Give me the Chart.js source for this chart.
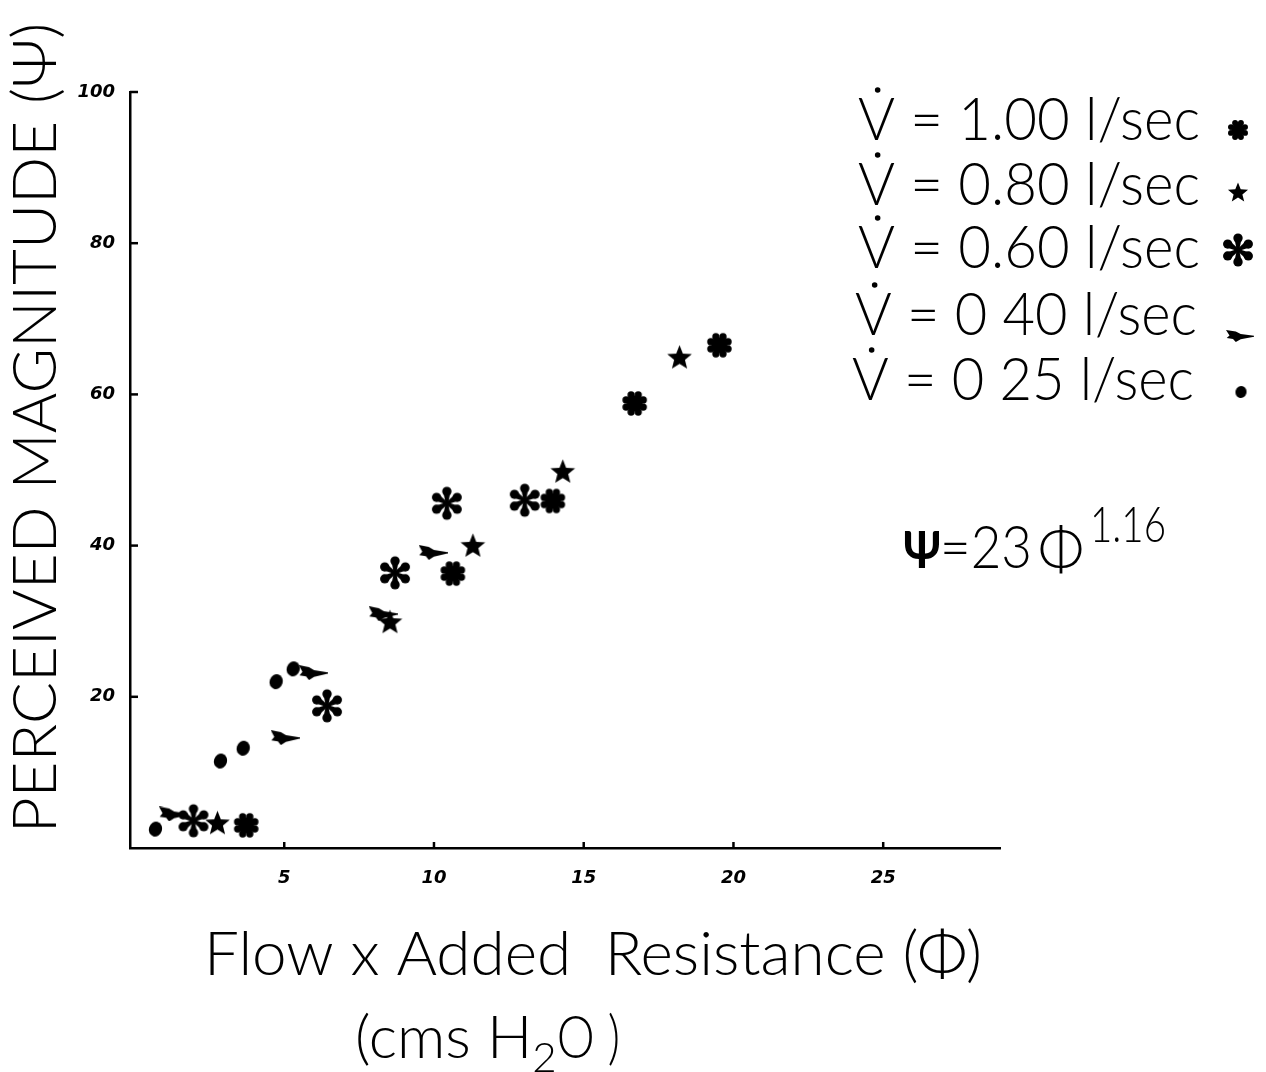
<!DOCTYPE html>
<html>
<head>
<meta charset="utf-8">
<script src="https://cdn.jsdelivr.net/npm/chart.js@4.4.1/dist/chart.umd.min.js"></script>
<style>
  html, body { margin: 0; padding: 0; background: #fff; }
  #plot { display: block; }
</style>
</head>
<body>
<canvas id="plot" width="1266" height="1072"></canvas>
<script>
// values (x = flow x added resistance, y = perceived magnitude)
const seriesLabels = ['V\u0307 = 1.00 l/sec', 'V\u0307 = 0.80 l/sec', 'V\u0307 = 0.60 l/sec', 'V\u0307 = 0 40 l/sec', 'V\u0307 = 0 25 l/sec'];

const flow100X = [3.73, 10.63, 13.97, 16.7, 19.53];
const flow100Y = [3.0, 36.3, 45.9, 58.8, 66.5];

const flow080X = [2.77, 8.53, 11.3, 14.3, 18.2];
const flow080Y = [3.2, 29.8, 39.9, 49.7, 64.8];

const flow060X = [1.97, 6.43, 8.7, 10.43, 13.03];
const flow060Y = [3.6, 18.8, 36.4, 45.6, 46.0];

const flow040X = [1.3, 5.03, 5.97, 8.3, 9.97];
const flow040Y = [4.5, 14.6, 23.2, 31.0, 39.1];

const flow025X = [0.7, 2.87, 3.63, 4.73, 5.3];
const flow025Y = [2.5, 11.5, 13.2, 22.0, 23.7];

const xTicks = [5, 10, 15, 20, 25];
const yTicks = [20, 40, 60, 80, 100];

const INK = '#000';

// ---- marker glyphs (drawn once on small canvases) ----
function makeMarker(w, h, draw) {
    const c = document.createElement('canvas');
    c.width = w; c.height = h;
    const g = c.getContext('2d');
    g.translate(w / 2, h / 2);
    g.fillStyle = INK;
    g.strokeStyle = INK;
    draw(g);
    return c;
}

// 8 bump cog
function cog(size) {
    const r = size * 0.3;
    return makeMarker(size, size, g => {
        g.beginPath(); g.arc(0, 0, r, 0, Math.PI * 2); g.fill();
        for (let i = 0; i < 8; i++) {
            const a = i * Math.PI / 4 + Math.PI / 8;
            g.beginPath();
            g.arc(Math.cos(a) * r * 1.15, Math.sin(a) * r * 1.15, r * 0.45, 0, Math.PI * 2);
            g.fill();
        }
    });
}

function star(size) {
    const ro = size * 0.48, ri = size * 0.21;
    return makeMarker(size, size, g => {
        g.beginPath();
        for (let i = 0; i < 10; i++) {
            const a = -Math.PI / 2 + i * Math.PI / 5;
            const r = i % 2 === 0 ? ro : ri;
            g.lineTo(Math.cos(a) * r, Math.sin(a) * r);
        }
        g.closePath(); g.fill();
    });
}

// six teardrop petals
function asterisk(size) {
    const d = size * 0.33, pr = size * 0.13;
    return makeMarker(size, size, g => {
        g.beginPath(); g.arc(0, 0, size * 0.07, 0, Math.PI * 2); g.fill();
        [90, 270, 30, 150, 210, 330].forEach(deg => {
            const a = -deg * Math.PI / 180;
            const cx = Math.cos(a) * d, cy = Math.sin(a) * d;
            const nx = -Math.sin(a), ny = Math.cos(a);
            g.beginPath(); g.arc(cx, cy, pr, 0, Math.PI * 2); g.fill();
            g.beginPath();
            g.moveTo(nx * 1.2, ny * 1.2);
            g.lineTo(cx + nx * pr * 0.8, cy + ny * pr * 0.8);
            g.lineTo(cx - nx * pr * 0.8, cy - ny * pr * 0.8);
            g.lineTo(-nx * 1.2, -ny * 1.2);
            g.closePath(); g.fill();
        });
    });
}

// dart pointing right: thick notched tail tapering to a point
function dart(w, h) {
    return makeMarker(w, h, g => {
        const hw = w / 2, hh = h / 2;
        g.beginPath();
        g.moveTo(-hw, -hh);
        g.lineTo(-hw * 0.3, -hh * 0.75);
        g.lineTo(hw * 0.05, -hh * 0.35);
        g.lineTo(hw, -hh * 0.05);
        g.lineTo(hw, hh * 0.12);
        g.lineTo(hw * 0.05, hh * 0.55);
        g.lineTo(-hw * 0.3, hh);
        g.lineTo(-hw * 0.5, hh * 0.5);
        g.lineTo(-hw * 0.95, hh * 0.35);
        g.lineTo(-hw * 0.75, -hh * 0.1);
        g.closePath(); g.fill();
    });
}

function dot(w, h) {
    return makeMarker(w + 2, h + 2, g => {
        g.rotate(0.3);
        g.beginPath(); g.ellipse(0, 0, w / 2, h / 2, 0, 0, Math.PI * 2); g.fill();
    });
}

const markers = [cog(27), star(27), asterisk(36), dart(29, 15), dot(13, 15)];
const legendMarkers = [cog(22), star(22), asterisk(36), dart(28, 12), dot(11, 12)];

function pts(xs, ys) { return xs.map((x, i) => ({ x: x, y: ys[i] })); }

const seriesData = [
    pts(flow100X, flow100Y),
    pts(flow080X, flow080Y),
    pts(flow060X, flow060Y),
    pts(flow040X, flow040Y),
    pts(flow025X, flow025Y)
];

// inward tick marks on both axes
const innerTicks = {
    id: 'innerTicks',
    afterDatasetsDraw(chart) {
        const { ctx, chartArea, scales } = chart;
        ctx.save();
        ctx.strokeStyle = INK;
        ctx.lineWidth = 2.5;
        yTicks.forEach(v => {
            const y = scales.y.getPixelForValue(v);
            ctx.beginPath(); ctx.moveTo(chartArea.left, y); ctx.lineTo(chartArea.left + 8, y); ctx.stroke();
        });
        xTicks.forEach(v => {
            const x = scales.x.getPixelForValue(v);
            ctx.beginPath(); ctx.moveTo(x, chartArea.bottom); ctx.lineTo(x, chartArea.bottom - 6); ctx.stroke();
        });
        ctx.restore();
    }
};

// titles, key and equation
const FONT = 'Lato, "DejaVu Sans", sans-serif';
const annotations = {
    id: 'annotations',
    afterDraw(chart) {
        const ctx = chart.ctx;
        ctx.save();
        ctx.fillStyle = INK;
        ctx.textBaseline = 'alphabetic';

        // y axis title
        ctx.save();
        ctx.translate(56, 428);
        ctx.rotate(-Math.PI / 2);
        ctx.font = '300 62px ' + FONT;
        ctx.textAlign = 'center';
        ctx.fillText('PERCEIVED MAGNITUDE (\u03A8)', 0, 0, 830);
        ctx.restore();

        // x axis title
        ctx.font = '300 62px ' + FONT;
        ctx.textAlign = 'center';
        ctx.fillText('Flow x Added  Resistance (\u03A6)', 593, 975, 778);

        // (cms H2O )
        ctx.textAlign = 'left';
        ctx.font = '300 60px ' + FONT;
        let x = 355;
        const p1 = '(cms H';
        const w1 = Math.min(ctx.measureText(p1).width, 180);
        ctx.fillText(p1, x, 1058, 180);
        x += w1;
        ctx.font = '300 42px ' + FONT;
        ctx.fillText('2', x, 1072);
        x += ctx.measureText('2').width;
        ctx.font = '300 60px ' + FONT;
        ctx.fillText('O )', x, 1058, 620 - x);

        // key: the flow-rate dot is put over the V by hand
        const keyBase = [140, 205, 268, 335, 400];
        const keyLeft = [858, 858, 858, 855, 852];
        const keyMark = [[1238, 130], [1238, 193], [1238, 250], [1240, 336], [1241, 392]];
        ctx.font = '300 60px ' + FONT;
        seriesLabels.forEach((t, i) => {
            const plain = t.replace('\u0307', '');
            ctx.fillText(plain, keyLeft[i], keyBase[i], 342);
            const vw = ctx.measureText('V').width;
            ctx.beginPath();
            ctx.arc(keyLeft[i] + vw / 2, keyBase[i] - 50, 2.8, 0, Math.PI * 2);
            ctx.fill();
            const m = legendMarkers[i];
            ctx.drawImage(m, keyMark[i][0] - m.width / 2, keyMark[i][1] - m.height / 2);
        });

        // fitted power law
        ctx.font = 'bold 52px ' + FONT;
        ctx.fillText('\u03A8', 903, 568, 38);
        ctx.font = '300 60px ' + FONT;
        ctx.fillText('=23', 940, 568, 92);
        ctx.fillText('\u03A6', 1038, 570, 46);
        ctx.font = '300 50px ' + FONT;
        ctx.fillText('1.16', 1090, 542, 76);

        ctx.restore();
    }
};

new Chart(document.getElementById('plot'), {
    type: 'scatter',
    data: {
        datasets: seriesData.map((d, i) => ({
            label: seriesLabels[i],
            data: d,
            pointStyle: markers[i],
            pointRadius: 12,
            backgroundColor: INK,
            borderColor: INK
        }))
    },
    options: {
        responsive: false,
        animation: false,
        events: [],
        layout: { padding: { top: 92, right: 266, bottom: 0, left: 0 } },
        plugins: {
            legend: { display: false },
            tooltip: { enabled: false },
            title: { display: false }
        },
        scales: {
            x: {
                type: 'linear',
                min: -0.15,
                max: 28.9,
                afterBuildTicks: s => { s.ticks = xTicks.map(v => ({ value: v })); },
                afterFit: s => { s.height = 224; },
                grid: { display: false, drawTicks: false },
                border: { display: true, color: INK, width: 2.5 },
                ticks: {
                    color: INK,
                    padding: 20,
                    maxRotation: 0,
                    font: { family: '"DejaVu Sans"', size: 18, style: 'italic', weight: 'bold' }
                }
            },
            y: {
                type: 'linear',
                min: 0,
                max: 100,
                afterBuildTicks: s => { s.ticks = yTicks.map(v => ({ value: v })); },
                afterFit: s => { s.width = 130; },
                grid: { display: false, drawTicks: false },
                border: { display: true, color: INK, width: 2.5 },
                ticks: {
                    color: INK,
                    padding: 15,
                    font: { family: '"DejaVu Sans"', size: 18, style: 'italic', weight: 'bold' }
                }
            }
        }
    },
    plugins: [innerTicks, annotations]
});
</script>
</body>
</html>
